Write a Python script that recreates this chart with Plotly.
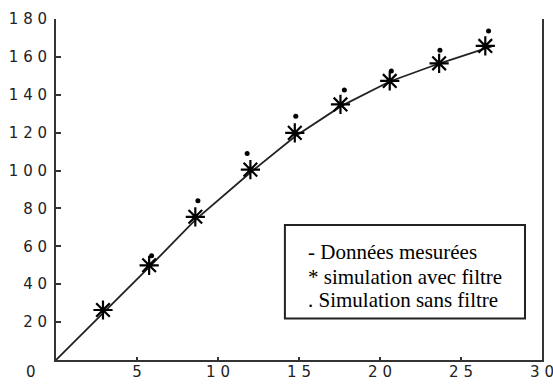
import plotly.graph_objects as go

# Measured data (line)
line_x = [0, 2.9, 5.75, 8.6, 12.0, 14.75, 17.6, 20.6, 23.65, 26.9]
line_y = [0, 24.5, 49, 74, 99, 118, 134, 147, 156.5, 165.5]

# Simulation with filter (*)
star_x = [2.9, 5.75, 8.6, 12.0, 14.74, 17.56, 20.6, 23.65, 26.5]
star_y = [26.4, 50, 75.6, 100.5, 119.9, 134.9, 147.3, 156.6, 165.8]

# Simulation without filter (.)
dot_x = [5.9, 8.76, 11.8, 14.8, 17.8, 20.7, 23.7, 26.7]
dot_y = [55, 84, 109, 128.7, 142.5, 152.5, 163.5, 173.7]

x_ticks = [5, 10, 15, 20, 25, 30]
y_ticks = [20, 40, 60, 80, 100, 120, 140, 160, 180]

legend_lines = ["- Données mesurées", "* simulation avec filtre", ". Simulation sans filtre"]

def spaced(v):
    return " ".join(str(v))

fig = go.Figure()
fig.add_trace(go.Scatter(x=line_x, y=line_y, mode="lines",
                         line=dict(color="#222222", width=1.8), showlegend=False))
fig.add_trace(go.Scatter(x=star_x, y=star_y, mode="markers",
                         marker=dict(symbol="asterisk-open", size=16, color="black",
                                     line=dict(color="black", width=2.2)),
                         showlegend=False))
fig.add_trace(go.Scatter(x=dot_x, y=dot_y, mode="markers",
                         marker=dict(symbol="circle", size=5, color="black"),
                         showlegend=False))

axis_font = dict(family="DejaVu Sans", size=15, color="#222222")
fig.update_xaxes(range=[0, 30], tickvals=x_ticks, ticktext=[spaced(v) for v in x_ticks],
                 ticks="inside", ticklen=3, tickwidth=2, tickcolor="#333333",
                 showline=True, linecolor="#333333", linewidth=2,
                 showgrid=False, zeroline=False, tickfont=axis_font, mirror=False,
                 ticklabelstandoff=-3, automargin=False, ticklabeloverflow="allow")
fig.update_yaxes(range=[0, 180], tickvals=y_ticks, ticktext=[spaced(v) for v in y_ticks],
                 ticks="inside", ticklen=5, tickwidth=2, tickcolor="#333333",
                 showline=True, linecolor="#333333", linewidth=2, mirror=True,
                 showgrid=False, zeroline=False, tickfont=axis_font, automargin=False,
                 ticklabeloverflow="allow", ticklabelstandoff=4)

# Legend box drawn as shape + text
fig.add_shape(type="rect", xref="paper", yref="paper", x0=0.471, x1=0.965, y0=0.122, y1=0.396,
              line=dict(color="#222222", width=2), fillcolor="white", layer="below")
for txt, yy in zip(legend_lines, [0.317, 0.243, 0.176]):
    fig.add_annotation(x=0.514, y=yy, xref="paper", yref="paper", text=txt, showarrow=False,
                       xanchor="left", yanchor="middle",
                       font=dict(family="Liberation Serif", size=21, color="black"))

fig.add_annotation(x=-0.052, y=-0.034, xref="paper", yref="paper", text="0", showarrow=False,
                   xanchor="center", yanchor="middle", font=axis_font)

fig.update_layout(width=553, height=385, margin=dict(l=56, r=11, t=19, b=25),
                  plot_bgcolor="white", paper_bgcolor="white")

fig.write_html("out.html")
